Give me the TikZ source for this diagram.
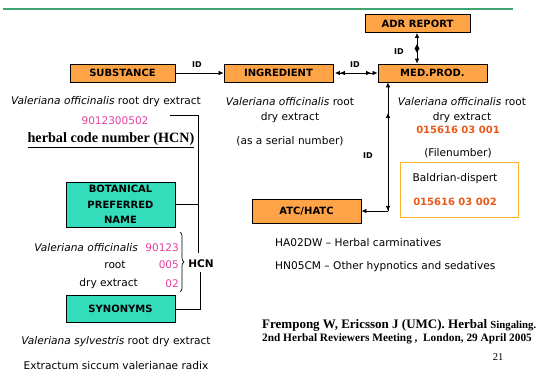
\documentclass[tikz,border=0pt]{standalone}
\usepackage{fontspec}
\setmainfont{DejaVu Sans}
\newfontfamily\serifft{Liberation Serif}
\usetikzlibrary{arrows.meta,decorations.pathreplacing,shapes.geometric}
\definecolor{boxorange}{RGB}{255,163,71}
\definecolor{boxteal}{RGB}{51,221,187}
\definecolor{hcnpink}{RGB}{228,64,160}
\definecolor{numorange}{RGB}{232,88,24}
\definecolor{baldborder}{RGB}{255,178,40}
\definecolor{rulegreen}{RGB}{64,164,112}
\begin{document}
\begin{tikzpicture}[x=1pt,y=-1pt,
  obox/.style={draw=black, line width=0.8pt, fill=boxorange, inner sep=0pt,
    font=\fontsize{10}{12}\selectfont\bfseries, minimum width=109pt, minimum height=18pt},
  tbox/.style={draw=black, line width=0.8pt, fill=boxteal, inner sep=0pt, align=center,
    font=\fontsize{10}{15.5}\selectfont\bfseries, minimum width=109pt},
  body/.style={font=\fontsize{10.6}{12}\selectfont, inner sep=0pt},
  idlab/.style={font=\fontsize{8}{9}\selectfont\bfseries, inner sep=0pt},
  pink/.style={text=hcnpink, font=\fontsize{10.5}{12}\selectfont, inner sep=0pt},
  orn/.style={text=numorange, font=\fontsize{10}{12}\selectfont\bfseries, inner sep=0pt},
  conn/.style={line width=0.7pt},
  tp/.tip={Latex[length=5pt,width=4.5pt]},
  foot/.style={inner sep=0pt, anchor=west}
]
\useasboundingbox (0,0) rectangle (542,371);
% rule
\draw[rulegreen, line width=1.3pt] (3,9) -- (513,9);

% boxes
\node[obox, minimum width=105pt] (adr) at (417.5,23.5) {ADR REPORT};
\node[obox] (med) at (432.5,73) {MED.PROD.};
\node[obox, minimum width=105pt] (sub) at (122.5,73) {SUBSTANCE};
\node[obox] (ing) at (278.5,73) {INGREDIENT};
\node[obox, minimum height=24pt] (atc) at (306.5,211) {ATC/HATC};
\node[tbox, minimum height=45pt] (bot) at (120.5,204.5) {BOTANICAL\\PREFERRED\\NAME};
\node[tbox, minimum height=27pt] (syn) at (120.5,309) {SYNONYMS};
\node[draw=baldborder, line width=1pt, minimum width=118pt, minimum height=55pt, inner sep=0pt] (bald) at (459,190.5) {};
\node[body] (baldname) at (455,179) {Baldrian-dispert};
\node[orn] (baldnum) at (455,202) {015616 03 002};

% connectors top row
\draw[conn, -tp] (sub.east) -- (ing.west);
\node[idlab] (id1) at (197,65) {ID};
\draw[conn, {tp[sep=1.5pt] tp}-{tp[sep=1.5pt] tp}] (ing.east) -- (med.west);
\node[idlab] (id2) at (355,65) {ID};
\draw[conn, tp-tp] (adr.south -| 417,0) -- (med.north -| 417,0);
\node[diamond, fill=black, inner sep=0pt, minimum width=5pt, minimum height=9pt] (dm) at (417,48.5) {};
\node[idlab] (id3) at (399,52) {ID};

% med.prod <-> atc
\coordinate (c) at (388,211);
\coordinate (m) at (388,113);
\draw[conn, tp-tp] (med.south -| c) -- (c);
\draw[conn, -tp] (c) -- (m);
\draw[conn, -tp] (c) -- (atc.east);
\node[idlab] (id4) at (368,156) {ID};

% substance text
\node[body] (s1) at (106,102) {\textit{Valeriana officinalis} root dry extract};
\node[pink] (s2) at (115,121) {9012300502};
\node[inner sep=0pt, font=\serifft\bfseries\fontsize{14.2}{16}\selectfont] (s3) at (111,140) {\underline{herbal code number (HCN)}};

% ingredient text
\node[body] (i1) at (290,102) {\textit{Valeriana officinalis} root};
\node[body] (i2) at (290,118) {dry extract};
\node[body] (i3) at (290,141) {(as a serial number)};

% med.prod text
\node[body] (p1) at (462,102) {\textit{Valeriana officinalis} root};
\node[body] (p2) at (462,118) {dry extract};
\node[orn] (p3) at (458,130) {015616 03 001};
\node[body] (p4) at (458,153) {(Filenumber)};

% atc text
\node[body, anchor=west] (a1) at (275,243) {HA02DW – Herbal carminatives};
\node[body, anchor=west] (a2) at (275,267) {HN05CM – Other hypnotics and sedatives};

% HCN lines
\coordinate (t1) at (170,115);
\coordinate (t2) at (198,115);
\node[inner sep=0pt, font=\fontsize{10.5}{12}\selectfont\bfseries] (hcn) at (201,264) {HCN};
\draw[conn] (t1) -- (t2) -- (t2 |- 0,253);
\draw[conn] (bot.east) -- (bot.east -| t2);
\draw[conn] (hcn.south -| 200,0) ++(0,4) -- (200,309) -- (syn.east |- 0,309);

% brace
\draw[conn, decorate, decoration={brace, amplitude=4pt}] (180,232) -- (180,292);
\node[body, anchor=east] (b1) at (138,248) {\textit{Valeriana officinalis}};
\node[pink, anchor=east] (b2) at (179,248) {90123};
\node[body] (b3) at (115,265) {root};
\node[pink, anchor=east] (b4) at (179,265) {005};
\node[body, anchor=east] (b5) at (138,284) {dry extract};
\node[pink, anchor=east] (b6) at (179,284) {02};

% synonyms text
\node[body] (y1) at (116,342) {\textit{Valeriana sylvestris} root dry extract};
\node[body] (y2) at (116,366) {Extractum siccum valerianae radix};

% footer
\node[foot, font=\serifft\bfseries\fontsize{13}{15}\selectfont] (f1) at (262,325) {Frempong W, Ericsson J (UMC). Herbal {\fontsize{10.8}{12}\selectfont Singaling.}};
\node[foot, font=\serifft\bfseries\fontsize{11.3}{13}\selectfont] (f2) at (262,339) {2nd Herbal Reviewers Meeting ,\ \ London, 29 April 2005};
\node[inner sep=0pt, font=\serifft\fontsize{10.5}{12}\selectfont] (pg) at (498,357) {21};
\end{tikzpicture}
\end{document}
